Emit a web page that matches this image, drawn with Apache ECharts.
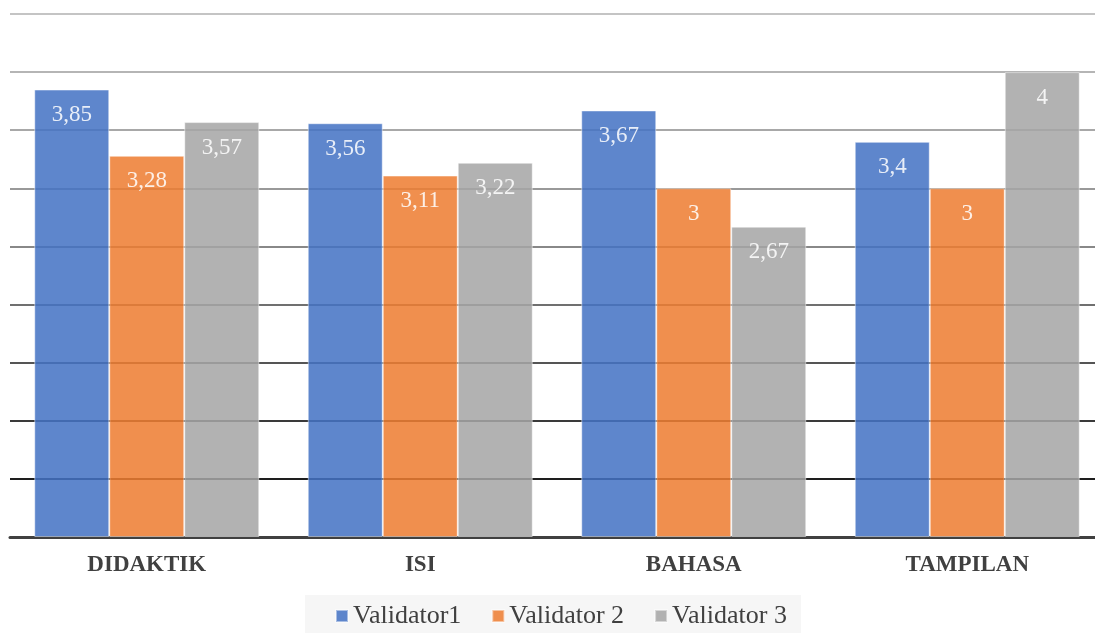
<!DOCTYPE html>
<html>
<head>
<meta charset="utf-8">
<script src="https://cdn.jsdelivr.net/npm/echarts@6/dist/echarts.min.js"></script>
<style>html,body{margin:0;padding:0;background:#fff}#c{width:1095px;height:633px}</style>
</head>
<body>
<div id="c"></div>
<script>
const categories = ['DIDAKTIK', 'ISI', 'BAHASA', 'TAMPILAN'];
const seriesNames = ['Validator1', 'Validator 2', 'Validator 3'];
const validator1 = [3.85, 3.56, 3.67, 3.4];
const validator2 = [3.28, 3.11, 3, 3];
const validator3 = [3.57, 3.22, 2.67, 4];
const colors = ['#4472C4', '#ED7D31', '#A5A5A5'];
const font = '"Liberation Serif", "DejaVu Serif", serif';

const chart = echarts.init(document.getElementById('c'), null, {renderer: 'canvas'});
const data = [validator1, validator2, validator3];
const series = data.map((d, i) => ({
  name: seriesNames[i],
  type: 'bar',
  data: d,
  barWidth: 75,
  barGap: '0%',
  itemStyle: {color: colors[i], opacity: 0.86, borderColor: 'rgba(255,255,255,0.55)', borderWidth: 1},
  label: {
    show: true, position: 'insideTop', distance: 14,
    color: '#fff', fontFamily: font, fontSize: 23,
    formatter: p => String(p.value).replace('.', ',')
  }
}));
chart.setOption({
  animation: false,
  color: colors,
  grid: {left: 10, width: 1094, top: 14, bottom: 96, outerBoundsMode: 'none', containLabel: false},
  xAxis: {
    type: 'category', data: categories,
    axisTick: {show: false},
    axisLine: {lineStyle: {color: '#404040', width: 3}},
    axisLabel: {color: '#404040', fontFamily: font, fontSize: 23, fontWeight: 'bold', margin: 17}
  },
  yAxis: {
    type: 'value', min: 0, max: 4.5, interval: 0.5,
    axisLabel: {show: false}, axisLine: {show: false}, axisTick: {show: false},
    splitLine: {lineStyle: {width: 2, color: ['#222', '#1e1e1e', '#3a3a3a', '#555', '#707070', '#888', '#999', '#a8a8a8', '#b5b5b5', '#c4c4c4']}}
  },
  legend: {
    bottom: 0, left: 305,
    itemWidth: 12, itemHeight: 12, itemGap: 30,
    icon: 'rect',
    backgroundColor: '#f6f6f6',
    padding: [8, 14, 4, 30],
    textStyle: {color: '#404040', fontFamily: font, fontSize: 26},
    data: seriesNames
  },
  series: series
});
</script>
</body>
</html>
